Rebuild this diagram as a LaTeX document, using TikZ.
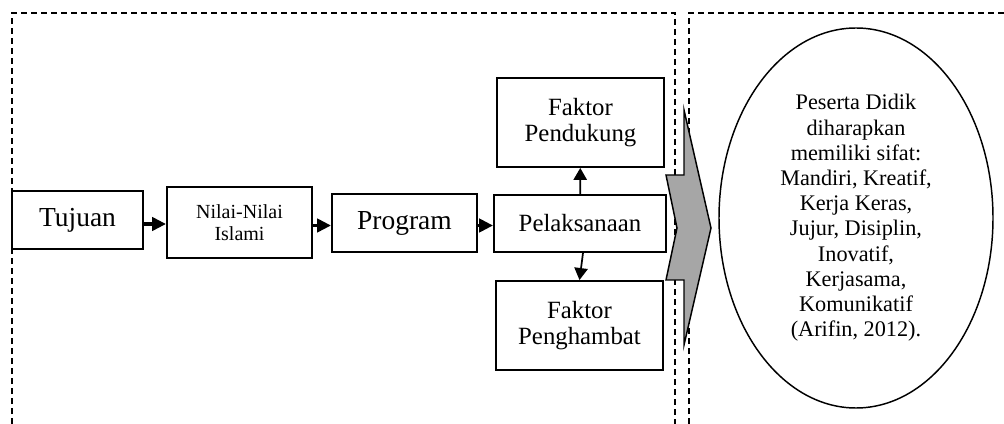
\documentclass[tikz,border=0pt]{standalone}
\usepackage{fontspec}
\setmainfont{Liberation Serif}
\usetikzlibrary{arrows.meta,shapes.geometric}
\definecolor{chevgray}{RGB}{166,166,166}

\begin{document}
\begin{tikzpicture}[x=0.75pt, y=-0.75pt,
    box/.style={draw, line width=1.4pt, align=center, inner sep=0pt},
    frame/.style={line width=1.1pt, dash pattern=on 4.5pt off 3pt},
    flow/.style={line width=2.8pt, -{Triangle[length=10.5pt,width=10pt]}},
    branch/.style={line width=1.3pt, -{Triangle[length=9pt,width=10pt]}},
    bigfont/.style={font=\fontsize{20.6}{22}\selectfont},
    midfont/.style={font=\fontsize{18.6}{20}\selectfont}]
    \useasboundingbox (0,0) rectangle (1004,424);
    \draw[frame] (12,424) -- (12,13) -- (675,13) -- (675,424);
    \draw[frame] (689,424) -- (689,13) -- (1004,13);

    \node[box, bigfont, minimum width=98.3pt, minimum height=43.5pt] (tujuan) at (77.5,220) {Tujuan};
    \node[box, font=\fontsize{15}{16}\selectfont, minimum width=108.8pt, minimum height=53.3pt] (nilai) at (239.5,222.5) {Nilai-Nilai\\Islami};
    \node[box, bigfont, minimum width=108.8pt, minimum height=43.5pt] (program) at (404.5,223) {Program};
    \node[box, midfont, minimum width=129pt, minimum height=42.8pt] (pelaksanaan) at (580,223.5) {Pelaksanaan};
    \node[box, midfont, minimum width=125.3pt, minimum height=66.8pt] (pendukung) at (580.5,122.5) {Faktor\\Pendukung};
    \node[box, midfont, minimum width=125.3pt, minimum height=66.8pt] (penghambat) at (579.5,325.5) {Faktor\\Penghambat};

    \draw[flow] (tujuan.east) ++(0,4) -- (nilai.west |- 0,224);
    \draw[flow] (nilai.east) ++(0,3) -- (program.west |- 0,225.5);
    \draw[flow] (program.east) ++(0,2.5) -- (pelaksanaan.west |- 0,225.5);
    \draw[branch] (pelaksanaan) -- (pendukung);
    \draw[branch] (pelaksanaan.south) ++(3,0) -- (penghambat.north);

    \draw[fill=chevgray, line width=1.1pt] (684,110) -- (711,228) -- (684,345) -- (684,280)
        -- (666,280) -- (677,228) -- (666,175) -- (684,175) -- cycle;

    \node[draw, ellipse, line width=1.1pt, inner sep=0pt, minimum width=205.5pt, minimum height=285pt,
        align=center, font=\fontsize{16.7}{18.9}\selectfont] (peserta) at (856,218)
        {Peserta Didik\\diharapkan\\memiliki sifat:\\Mandiri, Kreatif,\\Kerja Keras,\\Jujur, Disiplin,\\Inovatif,\\Kerjasama,\\Komunikatif\\(Arifin, 2012).};
\end{tikzpicture}
\end{document}
